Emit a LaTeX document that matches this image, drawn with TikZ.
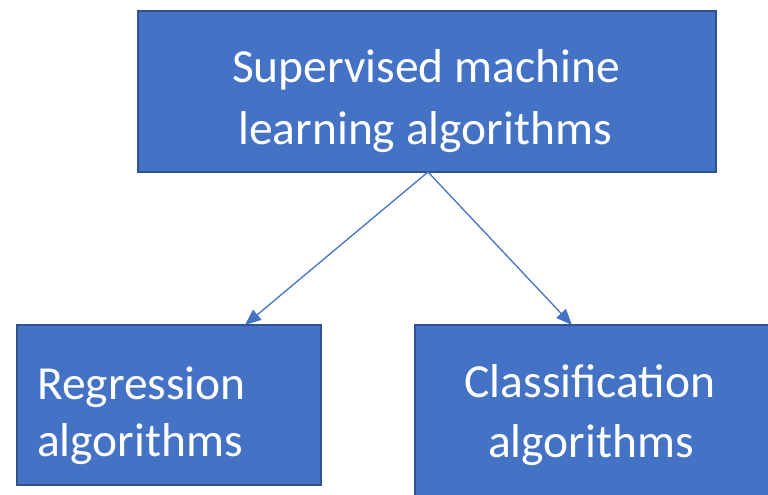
\documentclass[tikz,border=0pt]{standalone}
\usepackage{fontspec}
\setmainfont{Carlito}
\usetikzlibrary{arrows.meta}
\definecolor{boxblue}{HTML}{4472C4}
\definecolor{boxedge}{HTML}{2F528F}
\tikzset{
  box/.style={draw=boxedge, fill=boxblue, line width=1.2pt, inner sep=0pt, outer sep=0pt},
  lbl/.style={text=white, font=\fontsize{47.5}{57}\selectfont, inner sep=0pt, anchor=base},
  conn/.style={draw=boxblue, line width=1.3pt, -{Triangle[length=16pt,width=13pt]}}
}
\begin{document}
\begin{tikzpicture}[x=1pt,y=1pt]
\useasboundingbox (0,0) rectangle (768,495);
\clip (0,0) rectangle (768,495);
\fill[white] (0,0) rectangle (768,495);
% boxes
\node[box, minimum width=578pt, minimum height=161pt] (top) at (427,403.5) {};
\node[box, minimum width=304pt, minimum height=160pt] (left) at (169,90) {};
\node[box, minimum width=370pt, minimum height=180pt] (right) at (600,80) {};
% texts
\node[lbl] (t1) at (426,412) {Supervised machine};
\node[lbl] (t2) at (425,350) {learning algorithms};
\node[lbl, anchor=base west] (l1) at (37,95) {Regression};
\node[lbl, anchor=base west] (l2) at (37,38) {algorithms};
\node[lbl] (r1) at (590,97) {Classification};
\node[lbl] (r2) at (591,37) {algorithms};
% connectors
\coordinate (la) at (245,170);
\coordinate (ra) at (572,170);
\draw[conn] (top.south -| 428,0) -- (la);
\draw[conn] (top.south -| 428,0) -- (ra);
\end{tikzpicture}
\end{document}
